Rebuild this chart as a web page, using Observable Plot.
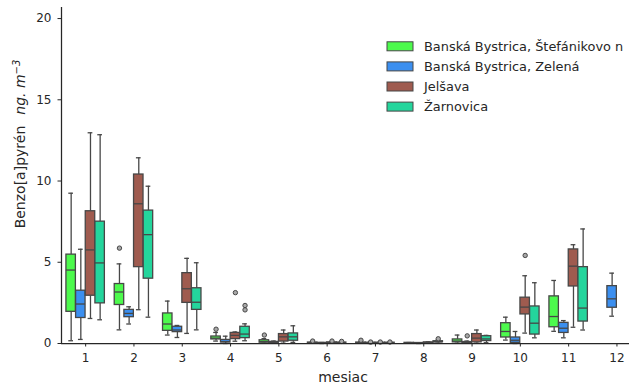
<!DOCTYPE html>
<html>
<head>
<meta charset="utf-8">
<script src="https://cdn.jsdelivr.net/npm/d3@7"></script>
<script src="https://cdn.jsdelivr.net/npm/@observablehq/plot@0.6"></script>
<style>
  html, body { margin: 0; padding: 0; background: #fff; overflow: hidden; }
  svg { display: block; }
</style>
</head>
<body>
<div id="chart"></div>
<script>
// ---- data ----
const months = [1, 2, 3, 4, 5, 6, 7, 8, 9, 10, 11, 12];
const stations = ["Banská Bystrica, Štefánikovo n", "Banská Bystrica, Zelená", "Jelšava", "Žarnovica"];
const colors = ["#4dfa4d", "#3b8ff0", "#9f5b4f", "#24d59c"];
const yTicks = [0, 5, 10, 15, 20];

// per month: [low whisker, Q1, median, Q3, high whisker]  (null = no data)
const stefanikovo = [
  [0.17, 1.95, 4.52, 5.47, 9.25],
  [0.84, 2.37, 3.17, 3.66, 4.9],
  [0.52, 0.78, 1.2, 1.85, 2.61],
  [0.15, 0.25, 0.33, 0.43, 0.68],
  [0.02, 0.05, 0.12, 0.2, 0.3],
  [0.01, 0.02, 0.04, 0.06, 0.1],
  [0.01, 0.02, 0.04, 0.06, 0.1],
  [0.01, 0.02, 0.03, 0.04, 0.06],
  [0.02, 0.07, 0.15, 0.25, 0.52],
  [0.21, 0.37, 0.74, 1.25, 1.62],
  [0.75, 1.0, 1.66, 2.9, 3.88],
  null
];
const zelena = [
  [0.25, 1.57, 2.43, 3.25, 5.8],
  [1.2, 1.62, 1.85, 2.07, 2.26],
  [0.37, 0.7, 0.83, 1.03, 1.11],
  [0.0, 0.06, 0.12, 0.22, 0.45],
  [0.01, 0.03, 0.06, 0.1, 0.15],
  [0.0, 0.01, 0.02, 0.04, 0.06],
  [0.0, 0.01, 0.03, 0.05, 0.07],
  [0.0, 0.01, 0.02, 0.03, 0.05],
  [0.01, 0.03, 0.05, 0.09, 0.15],
  [0.0, 0.04, 0.2, 0.37, 0.74],
  [0.35, 0.65, 0.94, 1.27, 1.41],
  [1.68, 2.2, 2.75, 3.53, 4.33]
];
const jelsava = [
  [1.54, 2.94, 5.76, 8.14, 12.97],
  [2.08, 4.7, 8.6, 10.4, 11.43],
  [0.62, 2.5, 3.37, 4.33, 5.24],
  [0.14, 0.27, 0.5, 0.65, 0.71],
  [0.02, 0.12, 0.41, 0.58, 0.83],
  [0.01, 0.02, 0.04, 0.07, 0.1],
  [0.01, 0.02, 0.03, 0.05, 0.07],
  [0.01, 0.03, 0.05, 0.07, 0.1],
  [0.02, 0.07, 0.33, 0.58, 0.83],
  [0.64, 1.79, 2.24, 2.82, 4.17],
  [1.0, 3.51, 4.76, 5.79, 6.08],
  null
];
const zarnovica = [
  [1.46, 2.47, 4.96, 7.5, 12.85],
  [1.62, 3.99, 6.7, 8.18, 9.68],
  [0.84, 2.07, 2.54, 3.4, 4.97],
  [0.17, 0.33, 0.58, 1.03, 1.21],
  [0.07, 0.17, 0.41, 0.62, 1.09],
  [0.01, 0.02, 0.04, 0.06, 0.09],
  [0.01, 0.02, 0.03, 0.05, 0.07],
  [0.02, 0.08, 0.1, 0.14, 0.2],
  [0.05, 0.15, 0.28, 0.45, 0.5],
  [0.35, 0.55, 1.25, 2.28, 3.74],
  [0.83, 1.35, 2.18, 4.7, 7.05],
  null
];
// outliers: [month, value]
const outStefanikovo = [[2, 5.87], [4, 0.88], [5, 0.52], [6, 0.15], [7, 0.2]];
const outZelena = [[7, 0.09], [9, 0.47]];
const outJelsava = [[4, 3.13], [6, 0.15], [7, 0.09], [10, 5.42]];
const outZarnovica = [[4, 2.07], [4, 2.34], [6, 0.13], [7, 0.09], [8, 0.29]];

// ---- build tables ----
const series = [stefanikovo, zelena, jelsava, zarnovica];
const outs = [outStefanikovo, outZelena, outJelsava, outZarnovica];
const offsets = [-0.3, -0.1, 0.1, 0.3];
const half = 0.098;
const rows = [];
series.forEach((s, si) => s.forEach((v, mi) => {
  if (!v) return;
  rows.push({station: stations[si], c: months[mi] + offsets[si],
    low: v[0], q1: v[1], med: v[2], q3: v[3], high: v[4]});
}));
const outRows = [];
outs.forEach((o, si) => o.forEach(([m, v]) => outRows.push({station: stations[si], c: m + offsets[si], v})));

const W = 629, H = 385, mL = 61, mR = 0, mT = 7, mB = 42;
const band = 48.3;
const xMax = 0.5 + (W - mL - mR) / band;
const edge = "#474747";

const svg = Plot.plot({
  width: W, height: H,
  marginLeft: mL, marginRight: mR, marginTop: mT, marginBottom: mB,
  style: {fontFamily: "DejaVu Sans", fontSize: "12px", color: "#262626", background: "#fff"},
  x: {type: "linear", domain: [0.5, xMax]},
  y: {domain: [0, 20.68]},
  color: {domain: stations, range: colors},
  marks: [
    Plot.ruleX(rows, {x: "c", y1: "q3", y2: "high", stroke: edge, strokeWidth: 1.3}),
    Plot.ruleX(rows, {x: "c", y1: "low", y2: "q1", stroke: edge, strokeWidth: 1.3}),
    Plot.ruleY(rows, {y: "high", x1: d => d.c - half / 2, x2: d => d.c + half / 2, stroke: edge, strokeWidth: 1.3}),
    Plot.ruleY(rows, {y: "low", x1: d => d.c - half / 2, x2: d => d.c + half / 2, stroke: edge, strokeWidth: 1.3}),
    Plot.rect(rows, {x1: d => d.c - half, x2: d => d.c + half, y1: "q1", y2: "q3", fill: "station", stroke: edge, strokeWidth: 1.3}),
    Plot.ruleY(rows, {y: "med", x1: d => d.c - half, x2: d => d.c + half, stroke: edge, strokeWidth: 1.3}),
    Plot.dot(outRows, {x: "c", y: "v", r: 2.2, stroke: edge, fill: "#a8a8a8", strokeWidth: 1}),
    Plot.ruleX([0.5], {stroke: "#262626", strokeWidth: 1.25}),
    Plot.ruleY([0], {stroke: "#262626", strokeWidth: 1.25}),
    Plot.axisX({ticks: months, tickFormat: d => String(d), tickSize: 3.5, tickPadding: 6.5, label: null, stroke: "#262626"}),
    Plot.axisY({ticks: yTicks, tickFormat: d => String(d), tickSize: 3.5, tickPadding: 6.5, label: null, stroke: "#262626"})
  ]
});

const s = d3.select(svg);
// x label
s.append("text").attr("x", mL + (W - mL) / 2 - 2).attr("y", 382)
  .attr("text-anchor", "middle").attr("font-size", "14px").attr("fill", "#262626")
  .text("mesiac");
// y label
const yl = s.append("text").attr("transform", "translate(25,144) rotate(-90)")
  .attr("text-anchor", "middle").attr("font-size", "14px").attr("fill", "#262626");
yl.append("tspan").text("Benzo[a]pyrén");
yl.append("tspan").attr("dx", "11").attr("font-style", "italic").text("ng. m");
yl.append("tspan").attr("font-style", "italic").attr("font-size", "10px").attr("dy", "-5.5").text("−3");

// legend
const lg = s.append("g").attr("text-anchor", "start");
stations.forEach((name, i) => {
  const cy = 46.3 + i * 20.1;
  lg.append("rect").attr("x", 387).attr("y", cy - 4.5).attr("width", 26).attr("height", 9)
    .attr("fill", colors[i]).attr("stroke", edge).attr("stroke-width", 1);
  lg.append("text").attr("x", 424).attr("y", cy).attr("dy", "0.36em").attr("text-anchor", "start")
    .attr("font-size", "12.9px").attr("fill", "#262626").text(name);
});

document.getElementById("chart").appendChild(svg);
</script>
</body>
</html>
